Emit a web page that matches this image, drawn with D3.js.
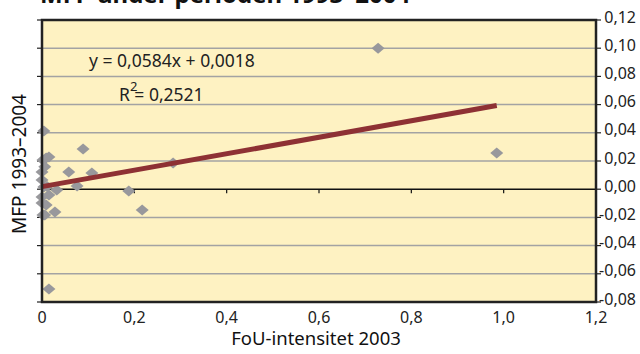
<!DOCTYPE html>
<html><head><meta charset="utf-8">
<script src="https://cdn.jsdelivr.net/npm/d3@7"></script>
<style>
html,body{margin:0;padding:0;background:#fff;}
svg{display:block;font-family:"Noto Sans",sans-serif;}
</style></head>
<body>
<svg id="c" width="640" height="354"></svg>
<script>
// ---- data ----
const fouIntensitet = [0.728, 0.985, 0.284, 0.217, 0.188, 0.089, 0.108, 0.058, 0.076, 0.032, 0.028, 0.004, 0.015,
  0.009, 0.015, 0.002, 0.000, 0.000, 0.004, 0.000, 0.015, 0.009, 0.000, 0.006, 0.002, 0.011, 0.006];
const mfp = [0.100, 0.0257, 0.0186, -0.0148, -0.0013, 0.0285, 0.0115, 0.0122, 0.0023, -0.0006, -0.0162, 0.0413, -0.0708,
  0.0221, 0.0228, 0.0207, 0.0122, 0.0065, 0.0016, -0.0055, -0.0041, -0.0112, -0.0098, -0.0183, -0.0183, 0.0020, 0.0160];
const trendSlope = 0.0584;
const trendIntercept = 0.0018;
const xTicks = [0, 0.2, 0.4, 0.6, 0.8, 1.0, 1.2];
const xTickLabels = ["0", "0,2", "0,4", "0,6", "0,8", "1,0", "1,2"];
const yTicks = [0.12, 0.10, 0.08, 0.06, 0.04, 0.02, 0.00, -0.02, -0.04, -0.06, -0.08];
const yTickLabels = ["0,12", "0,10", "0,08", "0,06", "0,04", "0,02", "0,00", "-0,02", "-0,04", "-0,06", "-0,08"];
const titleText = "MFP under perioden 1993–2004";
const xTitle = "FoU-intensitet 2003";
const yTitle = "MFP 1993–2004";
const eqText = "y = 0,0584x + 0,0018";
const r2Value = "= 0,2521";

// ---- layout ----
const L = 42, R = 596, T = 20, B = 302;
const svg = d3.select("#c");
const x = d3.scaleLinear().domain([0, 1.2]).range([L, R]);
const y = d3.scaleLinear().domain([-0.08, 0.12]).range([B, T]);

// title (cut at top)
svg.append("text").attr("x", 40).attr("y", 3).attr("font-weight", "bold")
  .attr("font-size", 24).attr("fill", "#111").text(titleText);

// plot background
svg.append("rect").attr("x", L).attr("y", T).attr("width", R - L).attr("height", B - T).attr("fill", "#FEF2C2");

// gridlines
svg.append("g").selectAll("line").data(yTicks.filter(v => v !== 0 && v !== 0.12 && v !== -0.08)).join("line")
  .attr("x1", L).attr("x2", R).attr("y1", d => y(d)).attr("y2", d => y(d))
  .attr("stroke", "#A3A3A3").attr("stroke-width", 1.5);

// left and right tick marks
const tg = svg.append("g");
tg.selectAll("line.l").data(yTicks).join("line").attr("class", "l")
  .attr("x1", L - 5).attr("x2", L).attr("y1", d => y(d)).attr("y2", d => y(d))
  .attr("stroke", "#222").attr("stroke-width", 1.2);
tg.selectAll("line.r").data(yTicks).join("line").attr("class", "r")
  .attr("x1", R).attr("x2", R + 5).attr("y1", d => y(d)).attr("y2", d => y(d))
  .attr("stroke", "#222").attr("stroke-width", 1.2);

// zero axis line with ticks
svg.append("line").attr("x1", L).attr("x2", R).attr("y1", y(0)).attr("y2", y(0))
  .attr("stroke", "#111").attr("stroke-width", 1.5);
svg.append("g").selectAll("line").data(xTicks).join("line")
  .attr("x1", d => x(d)).attr("x2", d => x(d)).attr("y1", y(0)).attr("y2", y(0) + 4)
  .attr("stroke", "#111").attr("stroke-width", 1.2);

// points
const diamond = "M0,-5.5L6.5,0L0,5.5L-6.5,0Z";
svg.append("g").selectAll("path").data(fouIntensitet.map((v, i) => [v, mfp[i]])).join("path")
  .attr("d", diamond).attr("transform", d => `translate(${x(d[0])},${y(d[1])})`)
  .attr("fill", "#98989C");

// trendline
const xMax = d3.max(fouIntensitet);
const tx = [0, xMax];
svg.append("line")
  .attr("x1", x(tx[0])).attr("y1", y(trendSlope * tx[0] + trendIntercept))
  .attr("x2", x(tx[1])).attr("y2", y(trendSlope * tx[1] + trendIntercept))
  .attr("stroke", "#8E3134").attr("stroke-width", 5);

// border
svg.append("rect").attr("x", L).attr("y", T).attr("width", R - L).attr("height", B - T)
  .attr("fill", "none").attr("stroke", "#222").attr("stroke-width", 2.5);

// y tick labels (right)
svg.append("g").selectAll("text").data(yTicks).join("text")
  .attr("x", 636).attr("y", d => y(d) + 2.5).attr("text-anchor", "end")
  .attr("font-size", 16).attr("fill", "#222").text((d, i) => yTickLabels[i]);

// x tick labels (bottom)
svg.append("g").selectAll("text").data(xTicks).join("text")
  .attr("x", d => x(d)).attr("y", 323).attr("text-anchor", "middle")
  .attr("font-size", 16).attr("fill", "#222").text((d, i) => xTickLabels[i]);

// axis titles
svg.append("text").attr("x", 316).attr("y", 345).attr("text-anchor", "middle")
  .attr("font-size", 18.5).attr("fill", "#111").text(xTitle);
svg.append("text").attr("transform", "translate(26,164) rotate(-90)").attr("text-anchor", "middle")
  .attr("font-size", 19).attr("fill", "#111").text(yTitle);

// equation
svg.append("text").attr("x", 89).attr("y", 67).attr("font-size", 17.5).attr("fill", "#222").text(eqText);
const r2 = svg.append("text").attr("x", 119).attr("y", 101).attr("font-size", 17.5).attr("fill", "#222");
r2.append("tspan").text("R");
r2.append("tspan").attr("dy", -10).attr("font-size", 13).text("2");
r2.append("tspan").attr("dy", 10).attr("dx", -3).text(r2Value);
</script>
</body></html>
